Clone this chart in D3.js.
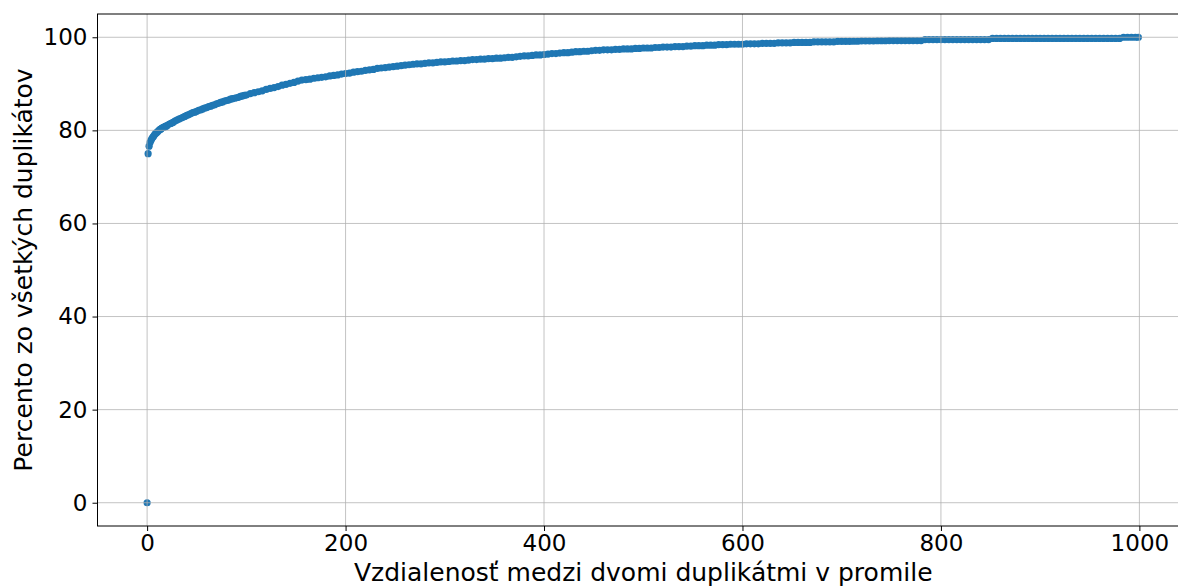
<!DOCTYPE html>
<html>
<head>
<meta charset="utf-8">
<script src="https://cdn.jsdelivr.net/npm/d3@7"></script>
<style>
  html, body { margin: 0; padding: 0; background: #fff; }
  svg { display: block; font-family: "DejaVu Sans", sans-serif; }
  .grid line { stroke: #b0b0b0; stroke-width: 1; opacity: 0.75; }
  .spine { stroke: #000; stroke-width: 1; fill: none; }
  .tick-label { font-size: 23px; fill: #000; }
  .axis-label { font-size: 25px; fill: #000; }
</style>
</head>
<body>
<svg width="1178" height="588"></svg>
<script>
const width = 1178;
const height = 588;

// vzdialenosť v promile (os x)
const promile = [
  0, 1, 2, 3, 4, 5, 6, 7, 8, 9, 10, 11, 12, 13, 14, 15, 16, 17, 18, 19, 20,
  22, 24, 26, 28, 30, 32, 34, 36, 38, 40, 42, 44, 46, 48, 50, 52, 54, 56, 58, 60,
  62, 64, 66, 68, 70, 72, 74, 76, 78, 80, 82, 84, 86, 88, 90, 92, 94, 96, 98, 100,
  104, 108, 112, 116, 120, 124, 128, 132, 136, 140, 144, 148, 152, 156, 160,
  164, 168, 172, 176, 180, 184, 188, 192, 196, 200,
  204, 208, 212, 216, 220, 224, 228, 232, 236, 240, 244, 248, 252, 256,
  260, 264, 268, 272, 276, 280, 284, 288, 292, 296, 300, 304, 308, 312, 316, 320,
  324, 328, 332, 336, 340, 344, 348, 352, 356,
  360, 364, 368, 372, 376, 380, 384, 388, 392, 396, 400, 404, 408, 412, 416, 420,
  424, 428, 432, 436, 440, 444, 448, 452, 456,
  460, 464, 468, 472, 476, 480, 484, 488, 492, 496, 500, 504, 508, 512, 516, 520,
  524, 528, 532, 536, 540, 544, 548, 552, 556, 560, 564, 568, 572, 576, 580, 584,
  588, 592, 596, 600,
  604, 608, 612, 616, 620, 624, 628, 632, 636, 640, 644, 648, 652, 656, 660, 664,
  668, 672, 676, 680, 684, 688, 692, 696, 700, 704, 708,
  712, 716, 720, 724, 728, 732, 736, 740, 744, 748, 752, 756, 760, 764, 768, 772,
  776, 780, 784, 788, 792, 796, 800, 804, 808, 812, 816, 820, 824, 828, 832, 836,
  840, 844, 848, 852, 856, 860, 864, 868, 872, 876, 880, 884, 888, 892, 896, 900,
  904, 908, 912, 916, 920, 924, 928, 932, 936, 940, 944, 948, 952, 956, 960, 964,
  968, 972, 976, 980, 984, 988, 992, 996, 999
];

// kumulatívne percento duplikátov (os y)
const percento = [
  0, 75.0, 76.6, 77.4, 77.9, 78.3, 78.6, 78.9, 79.2, 79.4, 79.6, 79.8, 80.0, 80.2, 80.3, 80.5, 80.6, 80.7, 80.8, 80.9, 81.0,
  81.3, 81.5, 81.7, 82.0, 82.2, 82.4, 82.6, 82.8, 83.0, 83.2, 83.4, 83.6, 83.8, 83.9, 84.1, 84.3, 84.4, 84.6, 84.8, 84.9,
  85.1, 85.2, 85.4, 85.5, 85.7, 85.8, 86.0, 86.1, 86.3, 86.4, 86.5, 86.7, 86.8, 86.9, 87.0, 87.1, 87.3, 87.4, 87.5, 87.6,
  87.9, 88.1, 88.3, 88.5, 88.8, 89.0, 89.2, 89.4, 89.7, 89.9, 90.1, 90.3, 90.6, 90.8, 90.9,
  91.0, 91.2, 91.3, 91.4, 91.5, 91.7, 91.8, 91.9, 92.1, 92.2,
  92.3, 92.5, 92.6, 92.7, 92.9, 93.0, 93.1, 93.3, 93.4, 93.5, 93.6, 93.7, 93.8, 93.9,
  94.0, 94.1, 94.2, 94.3, 94.3, 94.4, 94.5, 94.5, 94.6, 94.7, 94.7, 94.8, 94.9, 94.9, 95.0, 95.0,
  95.1, 95.2, 95.2, 95.3, 95.3, 95.4, 95.4, 95.5, 95.5,
  95.6, 95.7, 95.7, 95.8, 95.9, 96.0, 96.0, 96.1, 96.2, 96.2, 96.3, 96.4, 96.5, 96.5, 96.6, 96.7,
  96.7, 96.8, 96.9, 96.9, 97.0, 97.0, 97.1, 97.2, 97.2,
  97.3, 97.3, 97.3, 97.4, 97.4, 97.5, 97.5, 97.5, 97.6, 97.6, 97.7, 97.7, 97.7, 97.8, 97.8, 97.9,
  97.9, 97.9, 98.0, 98.0, 98.0, 98.1, 98.1, 98.2, 98.2, 98.2, 98.3, 98.3, 98.3, 98.4, 98.4, 98.4,
  98.5, 98.5, 98.5, 98.5,
  98.6, 98.6, 98.6, 98.6, 98.7, 98.7, 98.7, 98.7, 98.8, 98.8, 98.8, 98.8, 98.9, 98.9, 98.9, 98.9,
  98.9, 99.0, 99.0, 99.0, 99.0, 99.0, 99.0, 99.1, 99.1, 99.1, 99.1,
  99.15, 99.15, 99.2, 99.2, 99.2, 99.2, 99.25, 99.25, 99.25, 99.3, 99.3, 99.3, 99.3, 99.3, 99.3, 99.3,
  99.3, 99.3, 99.5, 99.5, 99.5, 99.5, 99.5, 99.5, 99.5, 99.5, 99.5, 99.5, 99.5, 99.5, 99.5, 99.5,
  99.5, 99.5, 99.5, 99.75, 99.75, 99.75, 99.75, 99.75, 99.75, 99.75, 99.75, 99.75, 99.75, 99.75, 99.75, 99.75,
  99.75, 99.75, 99.75, 99.75, 99.75, 99.75, 99.75, 99.75, 99.75, 99.75, 99.75, 99.75, 99.75, 99.75, 99.75, 99.75,
  99.75, 99.75, 99.75, 99.75, 100, 100, 100, 100, 100
];

const xTicks = [0, 200, 400, 600, 800, 1000];
const yTicks = [0, 20, 40, 60, 80, 100];

const plot = { left: 97.5, top: 14, right: 1188, bottom: 526 };

const x = d3.scaleLinear().domain([-50, 1049]).range([plot.left, plot.right]);
const y = d3.scaleLinear().domain([-5, 105]).range([plot.bottom, plot.top]);

const svg = d3.select("svg").attr("viewBox", [0, 0, width, height]);

const points = promile.map((p, i) => ({ x: p, y: percento[i] }));

// body
svg
  .append("g")
  .attr("class", "dots")
  .selectAll("circle")
  .data(points)
  .join("circle")
  .attr("cx", (d) => x(d.x))
  .attr("cy", (d) => y(d.y))
  .attr("r", 3.6)
  .attr("fill", "#1f77b4");

// mriežka (nad bodmi, ako v matplotlib)
const grid = svg.append("g").attr("class", "grid");
grid
  .selectAll("line.gx")
  .data(xTicks)
  .join("line")
  .attr("class", "gx")
  .attr("x1", (d) => x(d))
  .attr("x2", (d) => x(d))
  .attr("y1", plot.top)
  .attr("y2", plot.bottom);
grid
  .selectAll("line.gy")
  .data(yTicks)
  .join("line")
  .attr("class", "gy")
  .attr("x1", plot.left)
  .attr("x2", plot.right)
  .attr("y1", (d) => y(d))
  .attr("y2", (d) => y(d));

// osi
const xAxis = svg
  .append("g")
  .attr("transform", `translate(0,${plot.bottom})`)
  .call(d3.axisBottom(x).tickValues(xTicks).tickSize(5).tickPadding(4).tickFormat(d3.format("d")));
const yAxis = svg
  .append("g")
  .attr("transform", `translate(${plot.left},0)`)
  .call(d3.axisLeft(y).tickValues(yTicks).tickSize(5).tickPadding(5).tickFormat(d3.format("d")));

[xAxis, yAxis].forEach((a) => {
  a.select(".domain").remove();
  a.selectAll(".tick line").attr("stroke", "#000").attr("stroke-width", 1);
  a.selectAll(".tick text")
    .attr("class", "tick-label")
    .attr("font-family", "DejaVu Sans")
    .attr("font-size", null);
});

// rámik
svg
  .append("rect")
  .attr("class", "spine")
  .attr("x", plot.left)
  .attr("y", plot.top)
  .attr("width", plot.right - plot.left)
  .attr("height", plot.bottom - plot.top);

// popisy osí
svg
  .append("text")
  .attr("class", "axis-label")
  .attr("text-anchor", "middle")
  .attr("x", x(500))
  .attr("y", 581)
  .text("Vzdialenosť medzi dvomi duplikátmi v promile");

svg
  .append("text")
  .attr("class", "axis-label")
  .attr("text-anchor", "middle")
  .attr("transform", `translate(32,${(plot.top + plot.bottom) / 2}) rotate(-90)`)
  .text("Percento zo všetkých duplikátov");
</script>
</body>
</html>
